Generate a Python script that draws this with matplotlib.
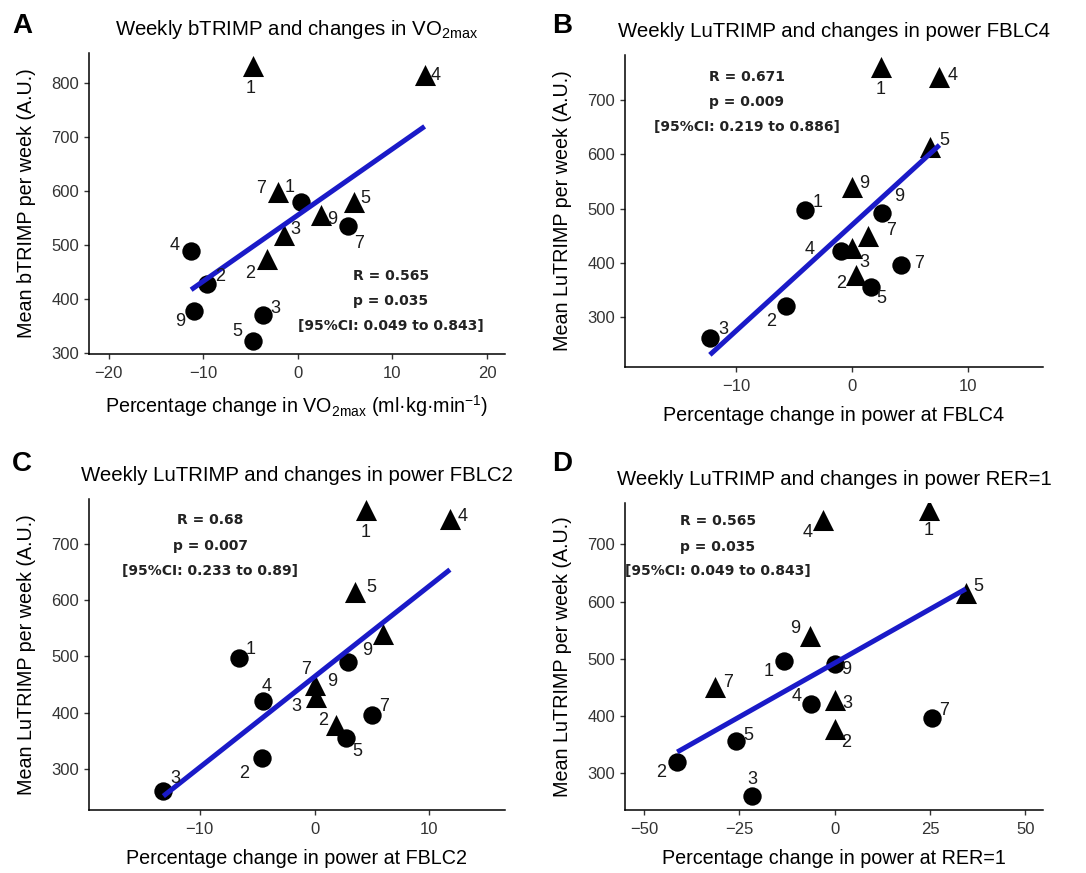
import numpy as np
import matplotlib
matplotlib.use('Agg')
from matplotlib import pyplot as plt

plt.rcParams['font.family'] = ['Liberation Sans', 'DejaVu Sans']
plt.rcParams['mathtext.fontset'] = 'custom'
plt.rcParams['mathtext.rm'] = 'Liberation Sans'
plt.rcParams['mathtext.it'] = 'Liberation Sans:italic'
plt.rcParams['mathtext.bf'] = 'Liberation Sans:bold'

subjects = ['1', '2', '3', '4', '5', '7', '9']

# A: weekly bTRIMP vs change in VO2max
a_tri_x = [-4.8, -3.3, -1.5, 13.4, 5.9, -2.1, 2.4]
a_tri_y = [831, 474, 519, 815, 579, 598, 556]
a_circ_x = [0.3, -9.6, -3.7, -11.3, -4.8, 5.3, -11.0]
a_circ_y = [580, 428, 371, 489, 323, 535, 377]

# weekly LuTRIMP (shared by B, C, D)
lu_tri_y = [760, 378, 428, 743, 614, 450, 540]
lu_circ_y = [497, 320, 261, 421, 356, 396, 491]

# B: change in power at FBLC4
b_tri_x = [2.47, 0.32, 0.03, 7.56, 6.78, 1.38, 0.03]
b_circ_x = [-4.02, -5.72, -12.27, -0.98, 1.67, 4.25, 2.6]

# C: change in power at FBLC2
c_tri_x = [4.52, 1.87, 0.14, 11.8, 3.5, 0.0, 6.0]
c_circ_x = [-6.57, -4.61, -13.17, -4.47, 2.74, 4.99, 2.94]

# D: change in power at RER=1
d_tri_x = [24.8, 0.1, 0.1, -3.1, 34.35, -31.3, -6.6]
d_circ_x = [-13.4, -41.3, -21.7, -6.2, -25.8, 25.6, 0.1]

stats_a = ['R = 0.565', 'p = 0.035', '[95%CI: 0.049 to 0.843]']
stats_b = ['R = 0.671', 'p = 0.009', '[95%CI: 0.219 to 0.886]']
stats_c = ['R = 0.68', 'p = 0.007', '[95%CI: 0.233 to 0.89]']
stats_d = ['R = 0.565', 'p = 0.035', '[95%CI: 0.049 to 0.843]']

# label offsets in pixels (subject order 1,2,3,4,5,7,9)
off_a_tri = [(-2, -22), (-17, -14), (12, 5), (11, 0), (12, 4), (-17, 4), (12, -5)]
off_a_circ = [(-11, 14), (13, 7), (12, 6), (-16, 5), (-15, 9), (11, -17), (-14, -10)]
off_b_tri = [(0, -22), (-15, -9), (12, -15), (13, 1), (14, 6), (23, 5), (12, 3)]
off_b_circ = [(12, 8), (-15, -15), (13, 9), (-31, 2), (10, -12), (18, 1), (17, 17)]
off_c_tri = [(-1, -23), (-13, 5), (-20, -9), (13, 3), (17, 5), (-8, 15), (-16, -17)]
off_c_circ = [(12, 9), (-17, -15), (12, 13), (3, 15), (11, -14), (12, 9), (-16, -20)]
off_d_tri = [(-1, -21), (11, -14), (12, -3), (-15, -13), (13, 7), (13, 5), (-14, 7)]
off_d_circ = [(-15, -11), (-16, -11), (0, 16), (-14, 8), (12, 6), (12, 8), (11, -6)]

W, H = 1086, 873
fig = plt.figure(figsize=(W / 100, H / 100), dpi=100)


def add_axes_px(left, top, right, bottom):
    return fig.add_axes([left / W, 1 - bottom / H, (right - left) / W, (bottom - top) / H])


def draw_panel(ax, tri_x, tri_y, circ_x, circ_y, off_tri, off_circ, stats, stats_x, stats_y):
    ax.scatter(tri_x, tri_y, marker='^', s=230, color='black', zorder=3, linewidths=0)
    ax.scatter(circ_x, circ_y, marker='o', s=175, color='black', zorder=3, linewidths=0)
    for xs, ys, offs in [(tri_x, tri_y, off_tri), (circ_x, circ_y, off_circ)]:
        for s, x, y, o in zip(subjects, xs, ys, offs):
            ax.annotate(s, (x, y), xytext=o, textcoords='offset pixels',
                        ha='center', va='center', fontsize=13, color='#1a1a1a', zorder=5)
    allx = np.array(tri_x + circ_x)
    ally = np.array(tri_y + circ_y)
    slope, icpt = np.polyfit(allx, ally, 1)
    lx = np.array([allx.min(), allx.max()])
    ax.plot(lx, slope * lx + icpt, color='#1a1ac8', lw=3.6, zorder=4, solid_capstyle='butt')
    for t, y in zip(stats, stats_y):
        ax.text(stats_x, y, t, ha='center', va='center', fontsize=10,
                fontweight='bold', color='#222222', family='DejaVu Sans', zorder=6)
    for side in ['top', 'right']:
        ax.spines[side].set_visible(False)
    for side in ['left', 'bottom']:
        ax.spines[side].set_linewidth(1.1)
        ax.spines[side].set_color('black')
    ax.tick_params(direction='out', length=3.5, width=1, colors='#333333', labelsize=12)
    ax.tick_params(axis='x', pad=5)


def label_panel(ax, title, xlabel, ylabel):
    ax.set_title(title, fontsize=14.7, pad=13)
    ax.set_xlabel(xlabel, fontsize=14.2, labelpad=9)
    ax.set_ylabel(ylabel, fontsize=14.2, labelpad=11)


ax_a = add_axes_px(89, 53, 505, 354)
draw_panel(ax_a, a_tri_x, a_tri_y, a_circ_x, a_circ_y, off_a_tri, off_a_circ,
           stats_a, 9.8, [442, 396, 349])
ax_a.set_xlim(-22.1, 21.9)
ax_a.set_ylim(298, 856)
ax_a.set_xticks([-20, -10, 0, 10, 20])
ax_a.set_yticks([300, 400, 500, 600, 700, 800])
label_panel(ax_a, r'Weekly bTRIMP and changes in VO$_{\mathrm{2max}}$',
            r'Percentage change in VO$_{\mathrm{2max}}$ (ml·kg·min$^{\mathrm{-1}}$)',
            'Mean bTRIMP per week (A.U.)')

ax_b = add_axes_px(625, 55, 1043, 367)
draw_panel(ax_b, b_tri_x, lu_tri_y, b_circ_x, lu_circ_y, off_b_tri, off_b_circ,
           stats_b, -9.1, [742, 697, 651])
ax_b.set_xlim(-19.6, 16.5)
ax_b.set_ylim(208, 783)
ax_b.set_xticks([-10, 0, 10])
ax_b.set_yticks([300, 400, 500, 600, 700])
label_panel(ax_b, 'Weekly LuTRIMP and changes in power FBLC4',
            'Percentage change in power at FBLC4', 'Mean LuTRIMP per week (A.U.)')

ax_c = add_axes_px(89, 499, 505, 810)
draw_panel(ax_c, c_tri_x, lu_tri_y, c_circ_x, lu_circ_y, off_c_tri, off_c_circ,
           stats_c, -9.1, [741, 696, 652])
ax_c.set_xlim(-19.65, 16.6)
ax_c.set_ylim(228, 779)
ax_c.set_xticks([-10, 0, 10])
ax_c.set_yticks([300, 400, 500, 600, 700])
label_panel(ax_c, 'Weekly LuTRIMP and changes in power FBLC2',
            'Percentage change in power at FBLC2', 'Mean LuTRIMP per week (A.U.)')

ax_d = add_axes_px(625, 503, 1043, 810)
draw_panel(ax_d, d_tri_x, lu_tri_y, d_circ_x, lu_circ_y, off_d_tri, off_d_circ,
           stats_d, -30.6, [740, 696, 653])
ax_d.set_xlim(-55, 54.6)
ax_d.set_ylim(236, 772)
ax_d.set_xticks([-50, -25, 0, 25, 50])
ax_d.set_yticks([300, 400, 500, 600, 700])
label_panel(ax_d, 'Weekly LuTRIMP and changes in power RER=1',
            'Percentage change in power at RER=1', 'Mean LuTRIMP per week (A.U.)')

for letter, px, py in [('A', 22, 26), ('B', 562, 26), ('C', 22, 464), ('D', 562, 464)]:
    fig.text(px / W, 1 - py / H, letter, fontsize=20, fontweight='bold',
             ha='center', va='center')

fig.savefig('out.png', dpi=100)
